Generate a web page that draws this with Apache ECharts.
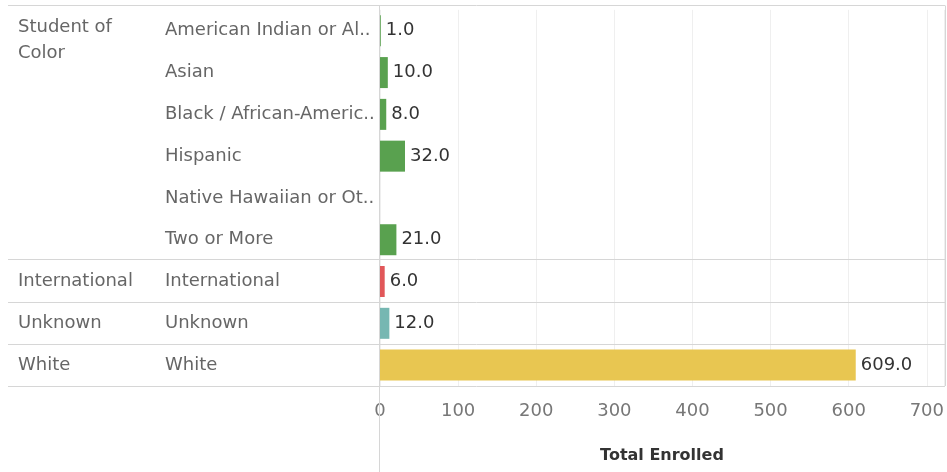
<!DOCTYPE html>
<html>
<head>
<meta charset="utf-8">
<script src="https://cdn.jsdelivr.net/npm/echarts@6/dist/echarts.min.js"></script>
<style>
  html, body { margin: 0; padding: 0; background: #fff; }
  #main { width: 947px; height: 472px; }
</style>
</head>
<body>
<div id="main"></div>
<script>
// rows, top to bottom
const categories = [
  'American Indian or Alaska Native',
  'Asian',
  'Black / African-American',
  'Hispanic',
  'Native Hawaiian or Other Pacific Islander',
  'Two or More',
  'International',
  'Unknown',
  'White'
];
const groupOf = [
  'Student of Color', 'Student of Color', 'Student of Color',
  'Student of Color', 'Student of Color', 'Student of Color',
  'International', 'Unknown', 'White'
];
const enrolled = [1, 10, 8, 32, null, 21, 6, 12, 609];
const xTicks = [0, 100, 200, 300, 400, 500, 600, 700];

const groupColors = {
  'Student of Color': '#59a14f',
  'International': '#e15759',
  'Unknown': '#76b7b2',
  'White': '#e8c651'
};

const FONT = 'DejaVu Sans';
const gridTop = 6, gridBottom = 386, gridLeft = 380, rightEdge = 945;
const rowH = (gridBottom - gridTop) / categories.length;

// group header shown only on the first row of each group
const groupLabels = groupOf.map((g, i) => (i === 0 || groupOf[i - 1] !== g) ? g : '');

// separator lines between groups (header area + plot)
const lines = [];
lines.push({ type: 'line', shape: { x1: 8, y1: gridTop - 0.5, x2: rightEdge, y2: gridTop - 0.5 } });
groupOf.forEach((g, i) => {
  if (i === groupOf.length - 1 || groupOf[i + 1] !== g) {
    const y = Math.round(gridTop + rowH * (i + 1)) + 0.5;
    lines.push({ type: 'line', shape: { x1: 8, y1: y, x2: rightEdge, y2: y } });
  }
});
lines.push({ type: 'line', shape: { x1: gridLeft - 0.5, y1: gridTop - 0.5, x2: gridLeft - 0.5, y2: 472 } });
lines.push({ type: 'line', shape: { x1: rightEdge + 0.5, y1: gridTop - 0.5, x2: rightEdge + 0.5, y2: gridBottom } });
lines.forEach(l => { l.style = { stroke: '#d6d6d6', lineWidth: 1 }; l.silent = true; l.z = 10; });

function wrapGroup(v) {
  if (!v) return '';
  const words = v.split(' ');
  const out = [];
  let cur = '';
  words.forEach(w => {
    if (cur && (cur + ' ' + w).length > 11) { out.push(cur); cur = w; }
    else cur = cur ? cur + ' ' + w : w;
  });
  out.push(cur);
  if (out.length === 1) return '{t|' + out[0] + '}';
  return '{s| }\n' + out.map(l => '{t|' + l + '}').join('\n');
}

const MyChart = echarts.init(document.getElementById('main'));
const option = {
  animation: false,
  grid: { left: gridLeft, right: 947 - rightEdge, top: gridTop, bottom: 472 - gridBottom },
  xAxis: {
    type: 'value',
    min: 0,
    max: 722,
    interval: 100,
    name: 'Total Enrolled',
    nameLocation: 'middle',
    nameGap: 62,
    nameTextStyle: { fontFamily: FONT, fontSize: 16, fontWeight: 'bold', color: '#333' },
    axisLine: { show: false },
    axisTick: { show: false },
    axisLabel: {
      fontFamily: FONT, fontSize: 18, color: '#777', margin: 16,
      showMaxLabel: false,
      formatter: v => xTicks.indexOf(v) >= 0 ? String(v) : ''
    },
    splitLine: { show: true, lineStyle: { color: '#efefef', width: 1 } }
  },
  yAxis: [
    {
      type: 'category',
      inverse: true,
      data: categories,
      position: 'left',
      axisLine: { show: false },
      axisTick: { show: false },
      splitLine: { show: false },
      axisLabel: {
        align: 'left', margin: gridLeft - 165,
        fontFamily: FONT, fontSize: 18, color: '#666',
        width: 213, overflow: 'truncate', ellipsis: '..'
      }
    },
    {
      type: 'category',
      inverse: true,
      data: groupLabels,
      position: 'left',
      axisLine: { show: false },
      axisTick: { show: false },
      splitLine: { show: false },
      axisLabel: {
        align: 'left', margin: gridLeft - 18,
        interval: 0,
        formatter: wrapGroup,
        rich: {
          s: { lineHeight: 20, fontSize: 10 },
          t: { fontFamily: FONT, fontSize: 18, color: '#666', lineHeight: 26 }
        }
      }
    }
  ],
  series: [{
    type: 'bar',
    yAxisIndex: 0,
    data: enrolled,
    barWidth: 31,
    itemStyle: { color: p => groupColors[groupOf[p.dataIndex]] },
    label: {
      show: true, position: 'right', distance: 5,
      fontFamily: FONT, fontSize: 18, color: '#333',
      formatter: p => p.value == null ? '' : Number(p.value).toFixed(1)
    }
  }],
  graphic: lines
};
MyChart.setOption(option);
</script>
</body>
</html>
